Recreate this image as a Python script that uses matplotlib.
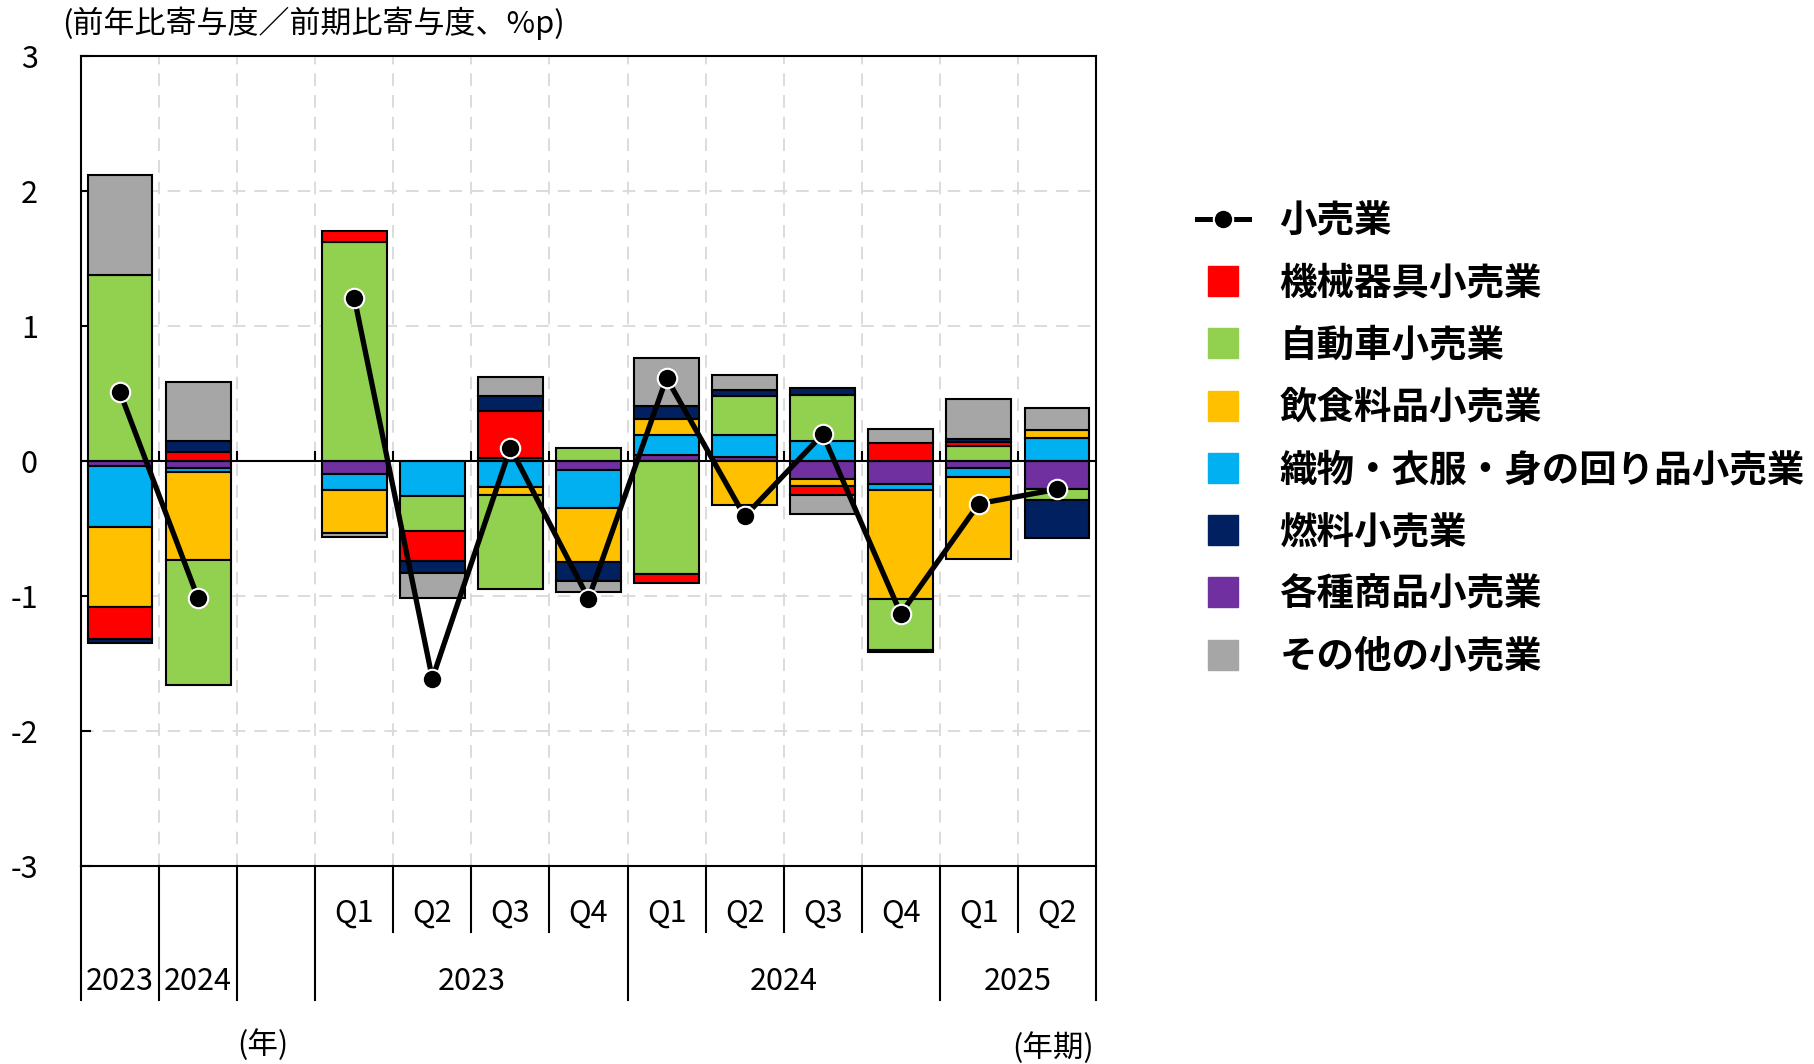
import numpy as np
import matplotlib
matplotlib.use("Agg")
import matplotlib.pyplot as plt
from matplotlib.lines import Line2D
import matplotlib.transforms as mtransforms

plt.rcParams['font.family'] = ['Noto Sans CJK JP', 'DejaVu Sans']

# ---- data ----
slots = ["2023", "2024", "", "Q1", "Q2", "Q3", "Q4", "Q1", "Q2", "Q3", "Q4", "Q1", "Q2"]
group_labels = ["2023", "2024", "2025"]
series_names = ["各種商品小売業", "織物・衣服・身の回り品小売業", "飲食料品小売業",
                "自動車小売業", "機械器具小売業", "燃料小売業", "その他の小売業"]
purple = [-0.040, -0.050, 0, -0.094, 0.000, 0.022, -0.069, 0.047, 0.030, -0.131, -0.168, -0.049, -0.210]
cyan   = [-0.447, -0.030, 0, -0.123, -0.262, -0.193, -0.279, 0.148, 0.160, 0.146, -0.049, -0.070, 0.170]
yellow = [-0.598, -0.653, 0, -0.316, 0.000, -0.056, -0.400, 0.119, -0.323, -0.057, -0.805, -0.604, 0.057]
green  = [1.376, -0.926, 0, 1.622, -0.259, -0.697, 0.096, -0.835, 0.291, 0.345, -0.380, 0.109, -0.076]
red    = [-0.230, 0.069, 0, 0.079, -0.220, 0.351, 0.000, -0.066, 0.000, -0.061, 0.133, 0.032, 0.000]
navy   = [-0.035, 0.079, 0, 0.000, -0.086, 0.111, -0.143, 0.093, 0.042, 0.050, -0.013, 0.019, -0.284]
gray   = [0.740, 0.437, 0, -0.032, -0.185, 0.138, -0.079, 0.358, 0.112, -0.144, 0.107, 0.302, 0.168]
total  = [0.508, -1.018, np.nan, 1.210, -1.612, 0.099, -1.020, 0.615, -0.410, 0.198, -1.131, -0.316, -0.210]

colors = ["#7030A0", "#00B0F0", "#FFC000", "#92D050", "#FF0000", "#002060", "#A6A6A6"]
series = [purple, cyan, yellow, green, red, navy, gray]

W, H = 1815, 1064
fig = plt.figure(figsize=(W / 100, H / 100), dpi=100)
ax = fig.add_axes([81 / W, 1 - 866 / H, (1096 - 81) / W, 810 / H])

x = np.arange(len(slots))
pos = np.zeros(len(slots))
neg = np.zeros(len(slots))
for vals, col in zip(series, colors):
    v = np.array(vals, dtype=float)
    for i in range(len(v)):
        if v[i] == 0:
            continue
        if v[i] > 0:
            b = pos[i]; pos[i] += v[i]
        else:
            b = neg[i]; neg[i] += v[i]
        ax.bar(x[i], v[i], bottom=b, width=0.83, color=col, edgecolor="black",
               linewidth=1.5, zorder=3)

ax.plot(x, total, color="black", lw=3.8, marker="o", markersize=14,
        markerfacecolor="black", markeredgecolor="white", markeredgewidth=1.5, zorder=5)

ax.set_xlim(-0.5, len(slots) - 0.5)
ax.set_ylim(-3, 3)
ax.set_yticks([-3, -2, -1, 0, 1, 2, 3])
ax.set_yticklabels(["-3", "-2", "-1", "0", "1", "2", "3"])
ax.tick_params(axis="y", direction="in", length=7, width=1.5, labelsize=22, pad=31)
ax.set_xticks([])
for s in ax.spines.values():
    s.set_linewidth(1.5)
    s.set_color("black")

# grid
for yv in [-2, -1, 1, 2]:
    ax.axhline(yv, color="#d9d9d9", lw=1.3, ls=(0, (7, 5)), zorder=1)
for xb in np.arange(0.5, len(slots) - 0.5, 1.0):
    ax.axvline(xb, color="#d9d9d9", lw=1.3, ls=(0, (7, 5)), zorder=1)
ax.axhline(0, color="black", lw=1.5, zorder=4)
ax.vlines(np.arange(0.5, len(slots) - 0.5, 1.0), 0, 0.075, color="black", lw=1.5, zorder=4)

# x table
trans = mtransforms.blended_transform_factory(ax.transData, ax.transAxes)
long_b = [-0.5, 0.5, 1.5, 2.5, 6.5, 10.5, 12.5]
short_b = [3.5, 4.5, 5.5, 7.5, 8.5, 9.5, 11.5]
for xb in long_b:
    ax.plot([xb, xb], [0, -0.165], transform=trans, color="black", lw=1.5, clip_on=False)
for xb in short_b:
    ax.plot([xb, xb], [0, -0.0815], transform=trans, color="black", lw=1.5, clip_on=False)
for i, s in enumerate(slots):
    if s.startswith("Q"):
        ax.text(i, -0.058, s, transform=trans, ha="center", va="center", fontsize=22)
ax.text(0, -0.142, slots[0], transform=trans, ha="center", va="center", fontsize=22)
ax.text(1, -0.142, slots[1], transform=trans, ha="center", va="center", fontsize=22)
for cx, lab in zip([4.5, 8.5, 11.5], group_labels):
    ax.text(cx, -0.142, lab, transform=trans, ha="center", va="center", fontsize=22)

fig.text(263 / W, 1 - 1045 / H, "(年)", ha="center", va="center", fontsize=22)
fig.text(1053 / W, 1 - 1048 / H, "(年期)", ha="center", va="center", fontsize=22)
fig.text(62 / W, 1 - 23 / H, "(前年比寄与度／前期比寄与度、%p)", ha="left", va="center", fontsize=22.3)

# legend
handles = [Line2D([0], [0], color="black", lw=3.6, marker="o", markersize=14,
                  markerfacecolor="black", markeredgecolor="white", markeredgewidth=1.5)]
labels = ["小売業"]
order = [4, 3, 2, 1, 5, 0, 6]
for k in order:
    handles.append(Line2D([0], [0], ls="none", marker="s", markersize=21,
                          markerfacecolor=colors[k], markeredgecolor=colors[k]))
    labels.append(series_names[k])
leg = fig.legend(handles, labels, loc="upper left", bbox_to_anchor=(1182 / W, 1 - 186 / H),
                 frameon=False, prop={"size": 27, "weight": "bold"},
                 handlelength=1.4, handletextpad=0.8, labelspacing=0.62, borderaxespad=0)

fig.savefig("out.png", dpi=100)
